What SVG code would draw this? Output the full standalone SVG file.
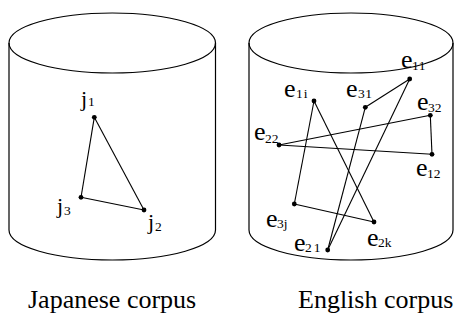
<svg xmlns="http://www.w3.org/2000/svg" width="455" height="320" viewBox="0 0 455 320" font-family="'Liberation Serif', 'DejaVu Serif', serif">
<style>
.cyl{fill:none;stroke:#000;stroke-width:1.2}
.edge{stroke:#000;stroke-width:1.1;fill:none}
.dot{fill:#000}
.t{font-family:'Liberation Serif','DejaVu Serif',serif;fill:#000}
.big{font-size:26px}
.j{font-size:22px}
.sub{font-size:13.5px}
.cap{font-size:26px}
</style>
<rect width="455" height="320" fill="#fff"/>
<g id="japanese-corpus">
<path class="cyl" d="M9,43 A103.25,30 0 0 1 215.5,43 A103.25,30 0 0 1 9,43 Z"/>
<path class="cyl" d="M9,43 L9,230 A103.25,30 0 0 0 215.5,230 L215.5,43"/>
<text class="t cap" x="28" y="308">Japanese corpus</text>
</g>
<g id="english-corpus">
<path class="cyl" d="M249,43 A102,30 0 0 1 453,43 A102,30 0 0 1 249,43 Z"/>
<path class="cyl" d="M249,43 L249,230 A102,30 0 0 0 453,230 L453,43"/>
<text class="t cap" x="298" y="308">English corpus</text>
</g>
<g id="connectors">
<line class="edge" x1="94.3" y1="117.3" x2="81" y2="197.3"/>
<line class="edge" x1="94.3" y1="117.3" x2="144" y2="210"/>
<line class="edge" x1="81" y1="197.3" x2="144" y2="210"/>
<line class="edge" x1="314" y1="101" x2="294.3" y2="204"/>
<line class="edge" x1="314" y1="101" x2="374" y2="222"/>
<line class="edge" x1="294.3" y1="204" x2="374" y2="222"/>
<line class="edge" x1="365.3" y1="107.3" x2="409.7" y2="79"/>
<line class="edge" x1="365.3" y1="107.3" x2="327.7" y2="250"/>
<line class="edge" x1="409.7" y1="79" x2="327.7" y2="250"/>
<line class="edge" x1="279" y1="145" x2="430.3" y2="115.3"/>
<line class="edge" x1="279" y1="145" x2="432" y2="154.3"/>
<line class="edge" x1="430.3" y1="115.3" x2="432" y2="154.3"/>
</g>
<g id="j1"><circle class="dot" cx="94.3" cy="117.3" r="2.4"/><text class="t j" x="81" y="106">j</text><text class="t sub" x="88" y="106">1</text></g>
<g id="j2"><circle class="dot" cx="144" cy="210" r="2.4"/><text class="t j" x="148" y="229">j</text><text class="t sub" x="155" y="231">2</text></g>
<g id="j3"><circle class="dot" cx="81" cy="197.3" r="2.4"/><text class="t j" x="57" y="213">j</text><text class="t sub" x="64" y="215">3</text></g>
<g id="e1i"><circle class="dot" cx="314" cy="101" r="2.4"/><text class="t big" x="284" y="97">e</text><text class="t sub" x="296" y="98" letter-spacing="1">1i</text></g>
<g id="e31"><circle class="dot" cx="365.3" cy="107.3" r="2.4"/><text class="t big" x="346" y="97">e</text><text class="t sub" x="358" y="98" letter-spacing="0.5">31</text></g>
<g id="e11"><circle class="dot" cx="409.7" cy="79" r="2.4"/><text class="t big" x="401" y="68">e</text><text class="t sub" x="412" y="70" letter-spacing="0.5">11</text></g>
<g id="e32"><circle class="dot" cx="430.3" cy="115.3" r="2.4"/><text class="t big" x="417" y="110">e</text><text class="t sub" x="428" y="112">32</text></g>
<g id="e22"><circle class="dot" cx="279" cy="145" r="2.4"/><text class="t big" x="254" y="140">e</text><text class="t sub" x="265" y="143">22</text></g>
<g id="e12"><circle class="dot" cx="432" cy="154.3" r="2.4"/><text class="t big" x="416" y="176">e</text><text class="t sub" x="427" y="178">12</text></g>
<g id="e3j"><circle class="dot" cx="294.3" cy="204" r="2.4"/><text class="t big" x="266" y="227">e</text><text class="t sub" x="277" y="228">3j</text></g>
<g id="e21"><circle class="dot" cx="327.7" cy="250" r="2.4"/><text class="t big" x="294" y="251">e</text><text class="t sub" x="305" y="252" letter-spacing="2">21</text></g>
<g id="e2k"><circle class="dot" cx="374" cy="222" r="2.4"/><text class="t big" x="367" y="246">e</text><text class="t sub" x="378" y="247">2k</text></g>
</svg>
